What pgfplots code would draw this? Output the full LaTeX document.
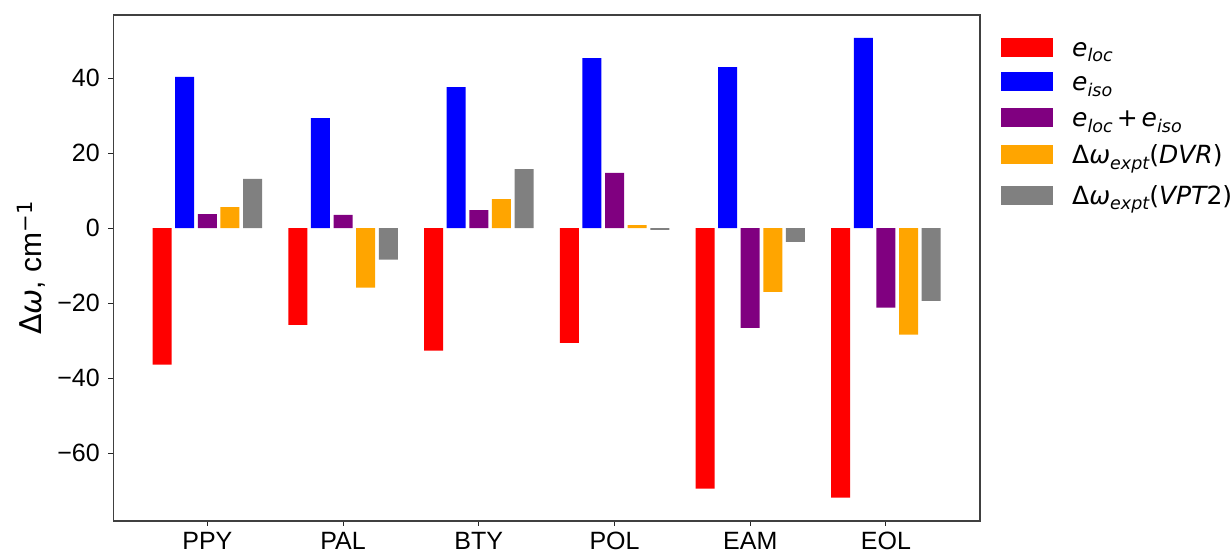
\documentclass[border=0pt]{standalone}
\usepackage{pgfplots}
\pgfplotsset{compat=1.18}
\usepackage{fontspec}
\setmainfont{Liberation Sans}
\newfontfamily\dv{DejaVu Sans}
% italic symbols and lowered subscripts, in the style of mathtext
\newcommand{\mv}[1]{{\dv\itshape #1}}
\newcommand{\msub}[1]{\raisebox{-0.22em}{\fontsize{17.5pt}{18pt}\selectfont\dv\itshape #1}}
\newcommand{\plus}{\hspace{4pt}{\dv +}\hspace{4pt}}
\newcommand{\lowstrut}[1]{\rule[-#1]{0pt}{#1}}

\definecolor{cRed}{HTML}{FF0000}
\definecolor{cBlue}{HTML}{0000FF}
\definecolor{cPurple}{HTML}{800080}
\definecolor{cOrange}{HTML}{FFA500}
\definecolor{cGray}{HTML}{808080}

\pgfplotsset{
  mybar/.style={ybar, bar width=0.14, draw=none, fill=#1,
    legend image code/.code={\fill[fill=#1] (0pt,-0.5pt) rectangle (52pt,18.5pt);}},
}

\begin{document}
\begin{tikzpicture}
\useasboundingbox (0,0) rectangle (1231pt,553pt);
\begin{axis}[
  at={(113.3pt,32pt)}, anchor=south west,
  scale only axis, width=866.7pt, height=506pt,
  xmin=-0.693, xmax=5.693,
  ymin=-78.1, ymax=56.8,
  xtick={0,1,2,3,4,5},
  xticklabels={PPY,PAL,BTY,POL,EAM,EOL},
  ytick={-60,-40,-20,0,20,40},
  yticklabels={−60,−40,−20,0,20,40},
  tick pos=left,
  tick align=outside,
  major tick length=4.9pt,
  tick style={black!85, line width=1pt},
  axis line style={black!75, line width=1.3pt},
  ticklabel style={font=\fontsize{25}{30}\selectfont},
  yticklabel style={inner sep=0pt, xshift=-8.4pt},
  xticklabel style={inner sep=0pt, yshift=-6pt},
  ylabel={{\dv Δ}\mv{ω}, cm\textsuperscript{\dv −1}},
  ylabel style={font=\fontsize{30}{36}\selectfont, at={(axis description cs:-0.0826,0.5)}, anchor=base, rotate=0},
  legend cell align=left,
  legend style={at={(axis description cs:1.0242,0.9565)}, anchor=north west,
    draw=none, fill=none, inner sep=0pt, row sep=7.7pt,
    font=\fontsize{25}{30}\selectfont,
    cells={anchor=base west},
    nodes={inner sep=0pt, text height=19pt, text depth={}},
    /tikz/every odd column/.append style={column sep=19pt}},
]
\addplot[mybar=cRed, bar shift=-0.3333] coordinates {
  (0,-36.4) (1,-25.8) (2,-32.7) (3,-30.6) (4,-69.5) (5,-71.9)};
\addplot[mybar=cBlue, bar shift=-0.1667] coordinates {
  (0,40.3) (1,29.3) (2,37.6) (3,45.3) (4,42.9) (5,50.7)};
\addplot[mybar=cPurple, bar shift=0] coordinates {
  (0,3.7) (1,3.5) (2,4.8) (3,14.7) (4,-26.6) (5,-21.2)};
\addplot[mybar=cOrange, bar shift=0.1667] coordinates {
  (0,5.6) (1,-15.9) (2,7.7) (3,0.8) (4,-17.0) (5,-28.4)};
\addplot[mybar=cGray, bar shift=0.3333] coordinates {
  (0,13.1) (1,-8.4) (2,15.7) (3,-0.5) (4,-3.7) (5,-19.4)};
\legend{
  \mv{e}\msub{loc}\lowstrut{8pt},
  \mv{e}\msub{iso}\lowstrut{9pt},
  \mv{e}\msub{loc}\plus\mv{e}\msub{iso}\lowstrut{10.3pt},
  {\dv Δ}\mv{ω}\msub{expt}{\dv(}\mv{DVR}{\dv)}\lowstrut{13.9pt},
  {\dv Δ}\mv{ω}\msub{expt}{\dv(}\mv{VPT}{\dv 2)}
}
\end{axis}
\end{tikzpicture}
\end{document}
